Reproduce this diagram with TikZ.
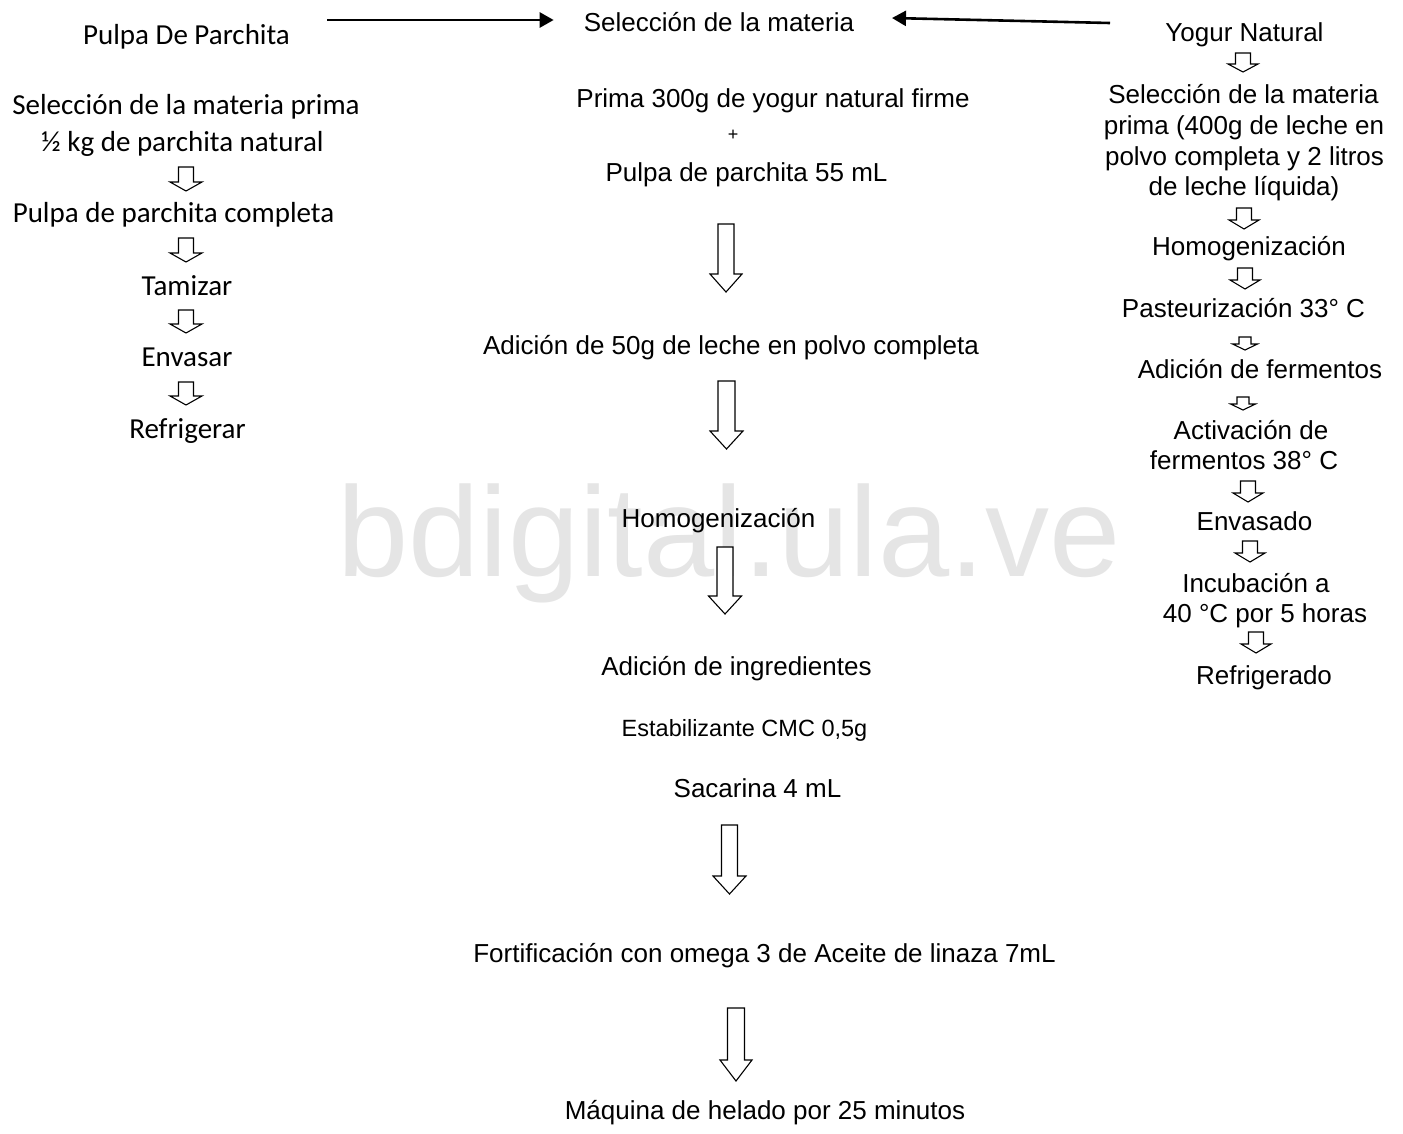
\documentclass[tikz,border=0pt]{standalone}
\usepackage{fontspec}
\setmainfont{Liberation Sans}
\newfontfamily\calib{Carlito}
\usetikzlibrary{arrows.meta}
\tikzset{
  ar/.style={font=\fontsize{26}{30}\selectfont, anchor=base, inner sep=0pt},
  cal/.style={font=\calib\fontsize{29}{33}\selectfont, anchor=base, inner sep=0pt},
  blockarrow/.style={draw=black, fill=white, line width=1.1pt, line join=miter},
  toparrow/.style={line width=2.6pt, -{Triangle[length=14pt,width=15pt]}},
  wmark/.style={font=\fontsize{128}{128}\selectfont, text=black!10, anchor=base, inner sep=0pt}
}
% block arrow: cx, ytop, yhead, ytip, head half width, shaft half width
\newcommand{\blkarrow}[6]{%
  \draw[blockarrow] (#1-#6,#2) -- (#1+#6,#2) -- (#1+#6,#3) -- (#1+#5,#3) -- (#1,#4)
    -- (#1-#5,#3) -- (#1-#6,#3) -- cycle;}
\begin{document}
\begin{tikzpicture}[x=1pt,y=-1pt]
\useasboundingbox (0,0) rectangle (1403,1133);
% watermark
\node[wmark] (wm) at (729,576) {bdigital.ula.ve};

% left column
\node[cal] (pp) at (186.5,44) {Pulpa De Parchita};
\node[cal] (l1) at (186,114) {Selección de la materia prima};
\node[cal] (l2) at (182.5,151) {½ kg de parchita natural};
\node[cal] (l3) at (173.5,222) {Pulpa de parchita completa};
\node[cal] (l4) at (187,295) {Tamizar};
\node[cal] (l5) at (187,366) {Envasar};
\node[cal] (l6) at (187.5,438) {Refrigerar};
\blkarrow{186}{167}{182}{191}{16}{7.5}
\blkarrow{186}{238}{253}{262}{16}{7.5}
\blkarrow{186}{310}{324}{333}{16}{7.5}
\blkarrow{186}{382}{396}{405}{16}{7.5}

% middle column
\node[ar] (sel) at (719,31) {Selección de la materia};
\node[ar] (m1) at (773,107) {Prima 300g de yogur natural firme};
\node[ar, font=\fontsize{18}{20}\selectfont] (plus) at (733,140) {+};
\node[ar] (m2) at (746.5,181) {Pulpa de parchita 55 mL};
\node[ar] (m3) at (731,354) {Adición de 50g de leche en polvo completa};
\node[ar] (m4) at (718.5,527) {Homogenización};
\node[ar] (m5) at (736.5,675) {Adición de ingredientes};
\node[ar, font=\fontsize{23.5}{27}\selectfont] (m6) at (744.5,736) {Estabilizante CMC 0,5g};
\node[ar] (m7) at (757.5,797) {Sacarina 4 mL};
\node[ar] (m8) at (764.5,962) {Fortificación con omega 3 de Aceite de linaza 7mL};
\node[ar] (m9) at (765,1119) {Máquina de helado por 25 minutos};
\blkarrow{726}{224}{274}{292}{16}{8}
\blkarrow{726.5}{381}{431}{449}{16.5}{8.5}
\blkarrow{725}{547}{596}{614}{16.5}{8}
\blkarrow{729.5}{825}{876}{894}{16.5}{8}
\blkarrow{736}{1008}{1060}{1081}{16}{8.5}

% right column
\node[ar] (yn) at (1244.5,41) {Yogur Natural};
\node[ar] (r1) at (1243.5,103) {Selección de la materia};
\node[ar] (r2) at (1244,134) {prima (400g de leche en};
\node[ar] (r3) at (1244.5,165) {polvo completa y 2 litros};
\node[ar] (r4) at (1244,195) {de leche líquida)};
\node[ar] (r5) at (1249,255) {Homogenización};
\node[ar] (r6) at (1243.5,317) {Pasteurización 33° C};
\node[ar] (r7) at (1260,378) {Adición de fermentos};
\node[ar] (r8) at (1251,439) {Activación de};
\node[ar] (r9) at (1244,469) {fermentos 38° C};
\node[ar] (r10) at (1254.5,530) {Envasado};
\node[ar] (r11) at (1256,592) {Incubación a};
\node[ar] (r12) at (1265,622) {40 °C por 5 horas};
\node[ar] (r13) at (1264,684) {Refrigerado};
\blkarrow{1243}{53}{64}{72}{15}{7.5}
\blkarrow{1244}{208}{220}{229}{15}{7.5}
\blkarrow{1245}{268}{280}{289}{15}{7.5}
\blkarrow{1245}{337}{344}{350}{12.5}{6}
\blkarrow{1243}{397}{404}{410}{12.5}{6}
\blkarrow{1248}{481}{493}{502}{15}{7.5}
\blkarrow{1250}{541}{553}{562}{15}{7.5}
\blkarrow{1256}{632}{644}{653}{15}{7.5}

% top connectors
\coordinate (a1s) at (327,20);
\draw[toparrow] (a1s) -- (a1s -| sel.west) [shorten >=30pt];
\coordinate (a2s) at (1110,23);
\coordinate (a2e) at (892,18);
\draw[toparrow] (a2s) -- (a2e);
\end{tikzpicture}
\end{document}
